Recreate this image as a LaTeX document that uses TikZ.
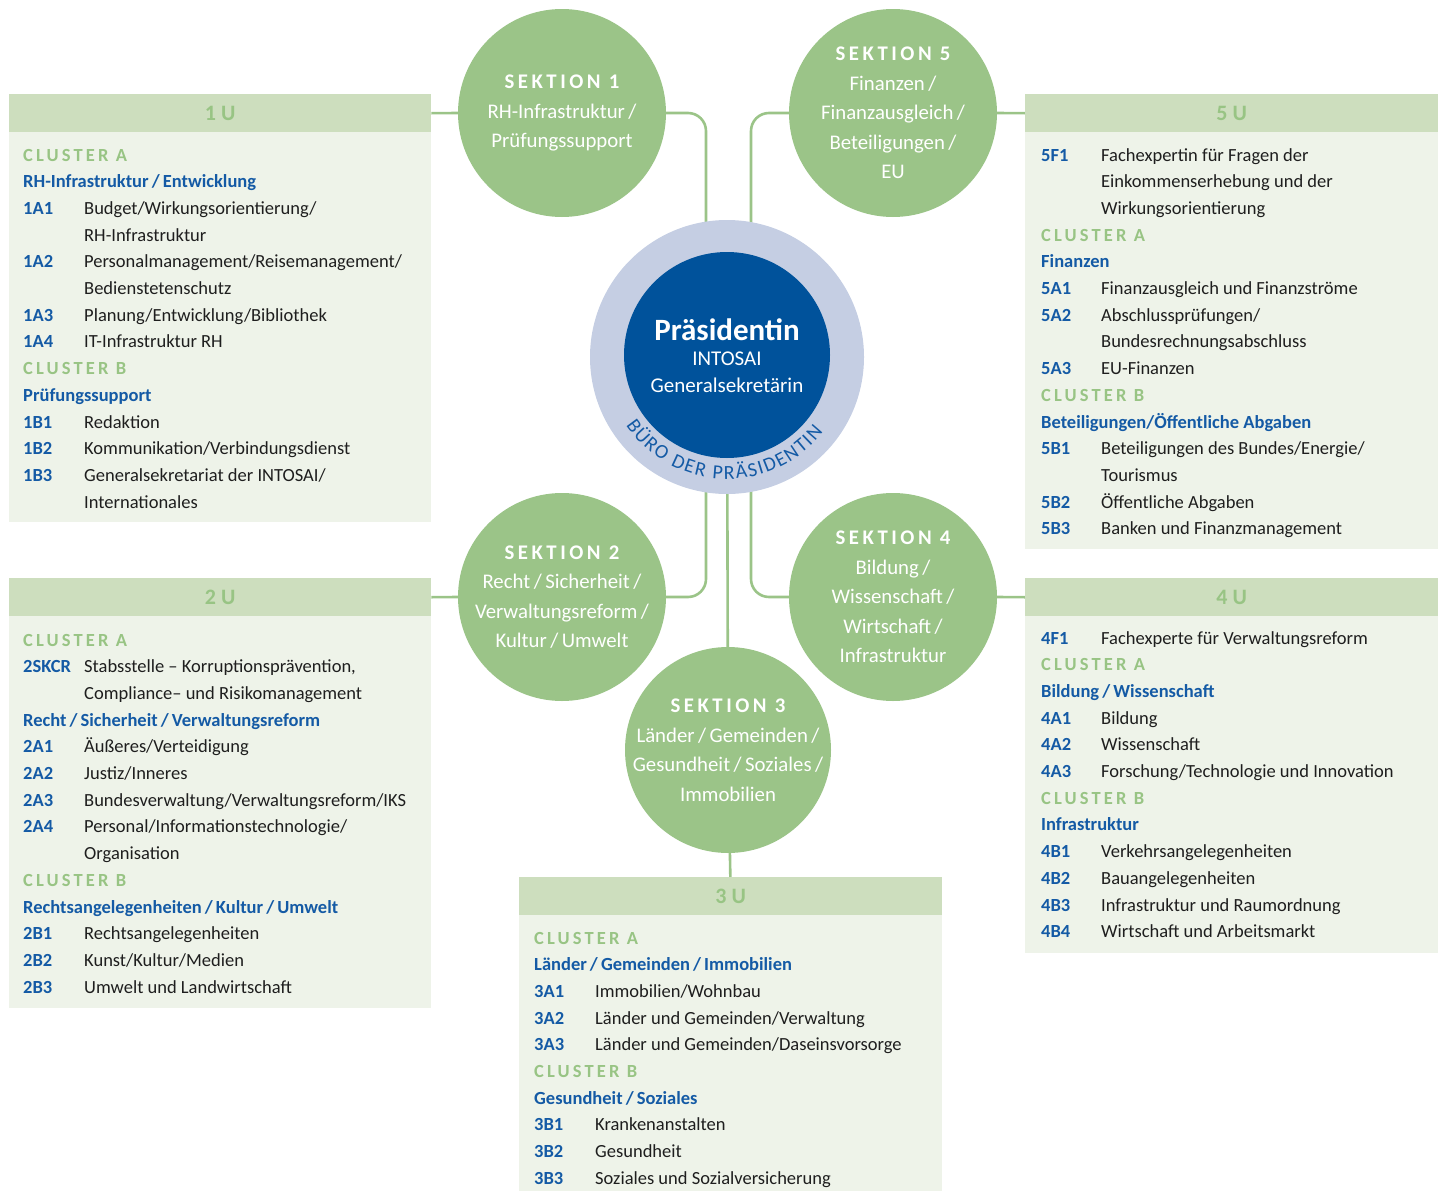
\documentclass[tikz,border=0pt]{standalone}
\usepackage{fontspec}
\setmainfont{Carlito}
\newfontfamily\spacedfont{Carlito}[LetterSpace=17]
\usepackage{array}
\usetikzlibrary{positioning, calc, decorations.text}

\definecolor{sekgreen}{RGB}{155,196,136}
\definecolor{headgreen}{RGB}{205,222,190}
\definecolor{bodygreen}{RGB}{238,243,233}
\definecolor{lablgreen}{RGB}{152,196,132}
\definecolor{codeblue}{RGB}{20,90,165}
\definecolor{presblue}{RGB}{0,82,155}
\definecolor{ringblue}{RGB}{197,206,227}
\definecolor{textdark}{RGB}{30,30,30}

\pgfdeclarelayer{bg}
\pgfsetlayers{bg,main}

\newcommand\clusterlbl[1]{\multicolumn{2}{@{}l@{}}{\spacedfont\bfseries\color{lablgreen}#1}}
\newcommand\grouplbl[1]{\multicolumn{2}{@{}l@{}}{\bfseries\color{codeblue}#1}}
\newcommand\unitcode[1]{\leavevmode{\bfseries\color{codeblue}#1}}

\begin{document}
\begin{tikzpicture}[
  x=1pt, y=-1pt,
  sekt/.style={circle, fill=sekgreen, minimum size=208, inner sep=0},
  sekttext/.style={text=white, align=center, font=\fontsize{20.8}{29.5}\selectfont},
  unit/.style={fill=bodygreen, anchor=north west, inner sep=0},
  unithead/.style={fill=headgreen, anchor=north, inner sep=0, minimum height=38, text=lablgreen, font=\fontsize{22}{22}\selectfont\bfseries},
  unittext/.style={anchor=base west, inner sep=0, text=textdark, font=\fontsize{18.5}{26.7}\selectfont},
  presline/.style={anchor=base, text=white, inner sep=0, font=\fontsize{21}{21}\selectfont},
  link/.style={draw=sekgreen, line width=2.6, rounded corners=18}
]
\useasboundingbox (0,0) rectangle (1438,1191);

% Units (boxes)
\node[unit, minimum width=422, minimum height=428] (u1) at (9,94) {};
\node[unithead, minimum width=422] (u1h) at (u1.north) {1 U};
\node[unit, minimum width=413, minimum height=455] (u5) at (1025,94) {};
\node[unithead, minimum width=413] (u5h) at (u5.north) {5 U};
\node[unit, minimum width=422, minimum height=430] (u2) at (9,578) {};
\node[unithead, minimum width=422] (u2h) at (u2.north) {2 U};
\node[unit, minimum width=413, minimum height=375] (u4) at (1025,578) {};
\node[unithead, minimum width=413] (u4h) at (u4.north) {4 U};
\node[unit, minimum width=423, minimum height=314] (u3) at (519,877) {};
\node[unithead, minimum width=423] (u3h) at (u3.north) {3 U};

% Sections
\node[sekt] (s1) at (562,113) {};
\node[sekt] (s5) at (893,113) {};
\node[sekt] (s2) at (562,597) {};
\node[sekt] (s4) at (893,597) {};
\node[sekt, minimum size=206] (s3) at (728,750) {};

\node[sekttext] (s1t) at (s1) {{\spacedfont\bfseries SEKTION 1}\\RH-Infrastruktur\,/\\Prüfungssupport};
\node[sekttext] (s5t) at (s5) {{\spacedfont\bfseries SEKTION 5}\\Finanzen\,/\\Finanzausgleich\,/\\Beteiligungen\,/\\EU};
\node[sekttext] (s2t) at (s2) {{\spacedfont\bfseries SEKTION 2}\\Recht\,/\,Sicherheit\,/\\Verwaltungsreform\,/\\Kultur\,/\,Umwelt};
\node[sekttext] (s4t) at (s4) {{\spacedfont\bfseries SEKTION 4}\\Bildung\,/\\Wissenschaft\,/\\Wirtschaft\,/\\Infrastruktur};
\node[sekttext] (s3t) at (s3) {{\spacedfont\bfseries SEKTION 3}\\Länder\,/\,Gemeinden\,/\\Gesundheit\,/\,Soziales\,/\\Immobilien};

% President
\node[circle, fill=ringblue, minimum size=274, inner sep=0] (ring) at (727,357) {};
\node[circle, fill=presblue, minimum size=206, inner sep=0] (pres) at (727,355) {};
\node[presline, font=\fontsize{31}{31}\selectfont\bfseries] (prest) at (727,340) {Präsidentin};
\node[presline] (intosai) at (727,365) {INTOSAI};
\node[presline] (gensek) at (727,392) {Generalsekretärin};
\path[decorate, decoration={text along path, text color=codeblue,
    text={|\fontsize{20}{20}\selectfont|BÜRO DER PRÄSIDENTIN}, text align={fit to path}}]
  ($(ring.center)+(214:122pt)$) arc[start angle=214, end angle=322, radius=122pt];

% Connectors
\begin{pgfonlayer}{bg}
\draw[link] (u1h.east) -- (s1.west);
\draw[link] (s1.east) -| ($(ring.center)+(-21,0)$);
\draw[link] (s5.west) -| ($(ring.center)+(24,0)$);
\draw[link] (s5.east) -- (u5h.west);
\draw[link] (s2.east) -| ($(ring.center)+(-21,0)$);
\draw[link] (s4.west) -| ($(ring.center)+(24,0)$);
\draw[link] (ring.center) -- (s3.center);
\draw[link] (s3.center) -- (u3h.center);
\draw[link] (u2h.east) -- (s2.west);
\draw[link] (s4.east) -- (u4h.west);
\end{pgfonlayer}

% Unit contents
\node[unittext] (u1t) at (23,161) {\begin{tabular}[t]{@{}p{61pt}@{}l@{}}
\clusterlbl{CLUSTER A}\\
\grouplbl{RH-Infrastruktur\,/\,Entwicklung}\\
\unitcode{1A1} & Budget/Wirkungsorientierung/\\
 & RH-Infrastruktur\\
\unitcode{1A2} & Personalmanagement/Reisemanagement/\\
 & Bedienstetenschutz\\
\unitcode{1A3} & Planung/Entwicklung/Bibliothek\\
\unitcode{1A4} & IT-Infrastruktur RH\\
\clusterlbl{CLUSTER B}\\
\grouplbl{Prüfungssupport}\\
\unitcode{1B1} & Redaktion\\
\unitcode{1B2} & Kommunikation/Verbindungsdienst\\
\unitcode{1B3} & Generalsekretariat der INTOSAI/\\
 & Internationales
\end{tabular}};

\node[unittext] (u5t) at (1041,161) {\begin{tabular}[t]{@{}p{60pt}@{}l@{}}
\unitcode{5F1} & Fachexpertin für Fragen der\\
 & Einkommenserhebung und der\\
 & Wirkungsorientierung\\
\clusterlbl{CLUSTER A}\\
\grouplbl{Finanzen}\\
\unitcode{5A1} & Finanzausgleich und Finanzströme\\
\unitcode{5A2} & Abschlussprüfungen/\\
 & Bundesrechnungsabschluss\\
\unitcode{5A3} & EU-Finanzen\\
\clusterlbl{CLUSTER B}\\
\grouplbl{Beteiligungen/Öffentliche Abgaben}\\
\unitcode{5B1} & Beteiligungen des Bundes/Energie/\\
 & Tourismus\\
\unitcode{5B2} & Öffentliche Abgaben\\
\unitcode{5B3} & Banken und Finanzmanagement
\end{tabular}};

\node[unittext] (u2t) at (23,646) {\begin{tabular}[t]{@{}p{61pt}@{}l@{}}
\clusterlbl{CLUSTER A}\\
\unitcode{2SKCR} & Stabsstelle – Korruptionsprävention,\\
 & Compliance– und Risikomanagement\\
\grouplbl{Recht\,/\,Sicherheit\,/\,Verwaltungsreform}\\
\unitcode{2A1} & Äußeres/Verteidigung\\
\unitcode{2A2} & Justiz/Inneres\\
\unitcode{2A3} & Bundesverwaltung/Verwaltungsreform/IKS\\
\unitcode{2A4} & Personal/Informationstechnologie/\\
 & Organisation\\
\clusterlbl{CLUSTER B}\\
\grouplbl{Rechtsangelegenheiten\,/\,Kultur\,/\,Umwelt}\\
\unitcode{2B1} & Rechtsangelegenheiten\\
\unitcode{2B2} & Kunst/Kultur/Medien\\
\unitcode{2B3} & Umwelt und Landwirtschaft
\end{tabular}};

\node[unittext] (u4t) at (1041,644) {\begin{tabular}[t]{@{}p{60pt}@{}l@{}}
\unitcode{4F1} & Fachexperte für Verwaltungsreform\\
\clusterlbl{CLUSTER A}\\
\grouplbl{Bildung\,/\,Wissenschaft}\\
\unitcode{4A1} & Bildung\\
\unitcode{4A2} & Wissenschaft\\
\unitcode{4A3} & Forschung/Technologie und Innovation\\
\clusterlbl{CLUSTER B}\\
\grouplbl{Infrastruktur}\\
\unitcode{4B1} & Verkehrsangelegenheiten\\
\unitcode{4B2} & Bauangelegenheiten\\
\unitcode{4B3} & Infrastruktur und Raumordnung\\
\unitcode{4B4} & Wirtschaft und Arbeitsmarkt
\end{tabular}};

\node[unittext] (u3t) at (534,944) {\begin{tabular}[t]{@{}p{61pt}@{}l@{}}
\clusterlbl{CLUSTER A}\\
\grouplbl{Länder\,/\,Gemeinden\,/\,Immobilien}\\
\unitcode{3A1} & Immobilien/Wohnbau\\
\unitcode{3A2} & Länder und Gemeinden/Verwaltung\\
\unitcode{3A3} & Länder und Gemeinden/Daseinsvorsorge\\
\clusterlbl{CLUSTER B}\\
\grouplbl{Gesundheit\,/\,Soziales}\\
\unitcode{3B1} & Krankenanstalten\\
\unitcode{3B2} & Gesundheit\\
\unitcode{3B3} & Soziales und Sozialversicherung
\end{tabular}};
\end{tikzpicture}
\end{document}
